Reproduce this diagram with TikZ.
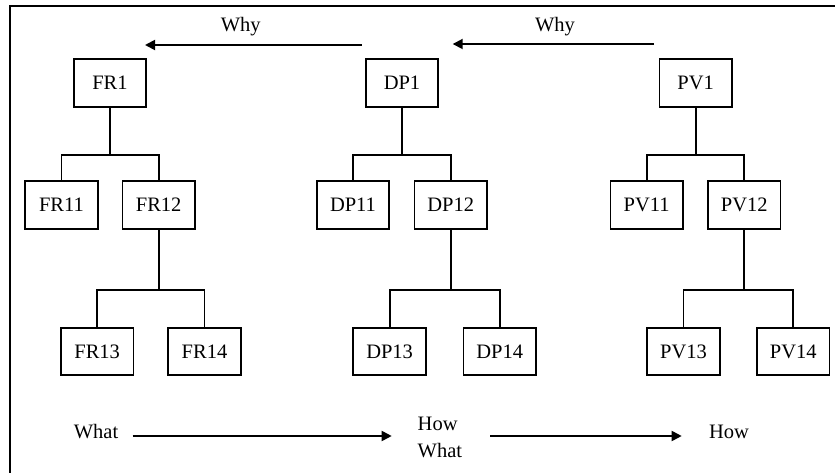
\documentclass[tikz,border=0pt]{standalone}
\usepackage{fontspec}
\setmainfont{Liberation Serif}
\usetikzlibrary{arrows.meta}
\begin{document}
\begin{tikzpicture}[x=1pt,y=-1pt,
  every node/.style={font=\fontsize{20.5}{24}\selectfont},
  item/.style={draw,line width=1.8pt,minimum width=72.5pt,minimum height=47.5pt,inner sep=0pt},
  link/.style={line width=1.8pt},
  flow/.style={line width=1.8pt,-{Triangle[length=10pt,width=10pt]}},
  label/.style={inner sep=0pt}]
\useasboundingbox (0,0) rectangle (835,473);
% frame
\draw[line width=2.2pt] (10,473) -- (10,6) -- (835,6);

% top level
\node[item] (FR1) at (110,83) {FR1};
\node[item] (DP1) at (402,83) {DP1};
\node[item] (PV1) at (695.7,83) {PV1};

% second level
\node[item] (FR11) at (61.5,205) {FR11};
\node[item] (FR12) at (158.7,205) {FR12};
\node[item] (DP11) at (353,205) {DP11};
\node[item] (DP12) at (450.7,205) {DP12};
\node[item] (PV11) at (646.7,205) {PV11};
\node[item] (PV12) at (744.2,205) {PV12};

% third level
\node[item] (FR13) at (97.2,351.5) {FR13};
\node[item] (FR14) at (204.5,351.5) {FR14};
\node[item] (DP13) at (389.6,351.5) {DP13};
\node[item] (DP14) at (499.7,351.5) {DP14};
\node[item] (PV13) at (683.5,351.5) {PV13};
\node[item] (PV14) at (793.3,351.5) {PV14};

% decomposition links
\foreach \p/\a/\b in {FR1/FR11/FR12, DP1/DP11/DP12, PV1/PV11/PV12} {
  \draw[link] (\p.south) -- (\p.south |- 0,155);
  \draw[link] (\a.north) -- (\a.north |- 0,155) -| (\b.north);
}
\foreach \p/\a/\b in {FR12/FR13/FR14, DP12/DP13/DP14, PV12/PV13/PV14} {
  \draw[link] (\p.south) -- (\p.south |- 0,290);
  \draw[link] (\a.north) -- (\a.north |- 0,290) -| (\b.north);
}

% "Why" arrows
\coordinate (w1s) at (361.7,45);
\coordinate (w1e) at (145,45);
\coordinate (w2s) at (654,44);
\coordinate (w2e) at (452.7,44);
\draw[flow] (w1s) -- (w1e);
\draw[flow] (w2s) -- (w2e);
\node[label] (why1) at (240.7,27) {Why};
\node[label] (why2) at (555,27) {Why};

% "What / How" arrows
\node[label] (what) at (96,432) {What};
\node[label,align=left,anchor=west] (howwhat) at (417.5,437) {How\\[3pt]What};
\node[label] (how) at (729,432) {How};
\coordinate (a1) at (132.7,436);
\coordinate (a1e) at (391.7,436);
\coordinate (a2) at (490,436);
\coordinate (a2e) at (681.7,436);
\draw[flow] (a1) -- (a1e);
\draw[flow] (a2) -- (a2e);
\end{tikzpicture}
\end{document}
